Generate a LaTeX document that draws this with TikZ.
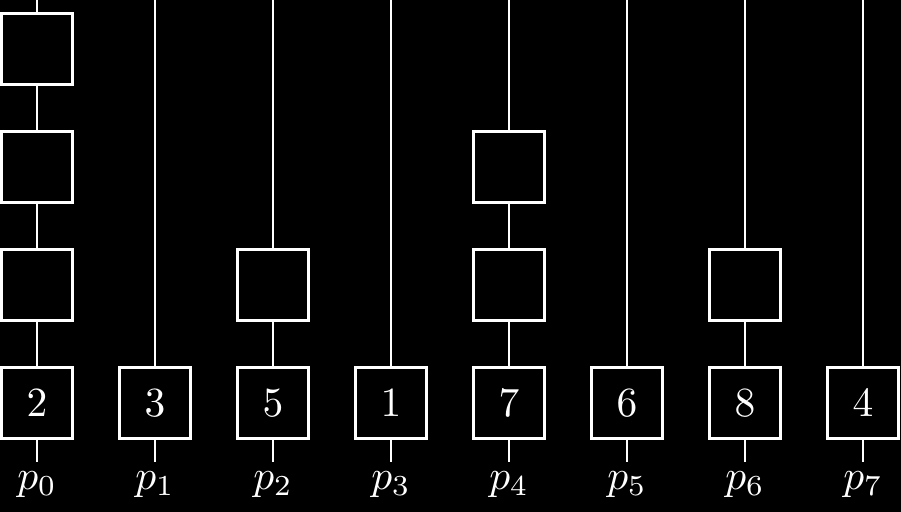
\documentclass[tikz,border=0pt]{standalone}
\usepackage{tikz}
\tikzset{cell/.style={draw=white, thick, fill=black, text=white, minimum size=0.6cm, inner sep=0pt}}
\tikzset{wire/.style={draw=white}}
\tikzset{plabel/.style={text=white, anchor=base}}

\begin{document}
\begin{tikzpicture}
      \useasboundingbox[fill=black] (-0.3136,-0.924) rectangle (7.322,3.415);
      \clip (-0.3136,-0.924) rectangle (7.322,3.415);
      \foreach \i/\v in {0/2,1/3,2/5,3/1,4/7,5/6,6/8,7/4} {
        \coordinate (t\i) at (\i,3.6);
        \coordinate (b\i) at (\i,-0.5);
        \draw[wire] (t\i) -- (b\i);
        \node[cell] (c\i) at (\i,0) {$\v$};
        \node[plabel] (p\i) at (\i,-0.73) {$p_\i$};
      }
      % stacked empty cells
      \foreach \i/\j in {0/1,0/2,0/3,2/1,4/1,4/2,6/1}
        \node[cell] (s\i\j) at (\i,\j) {};
\end{tikzpicture}
\end{document}
